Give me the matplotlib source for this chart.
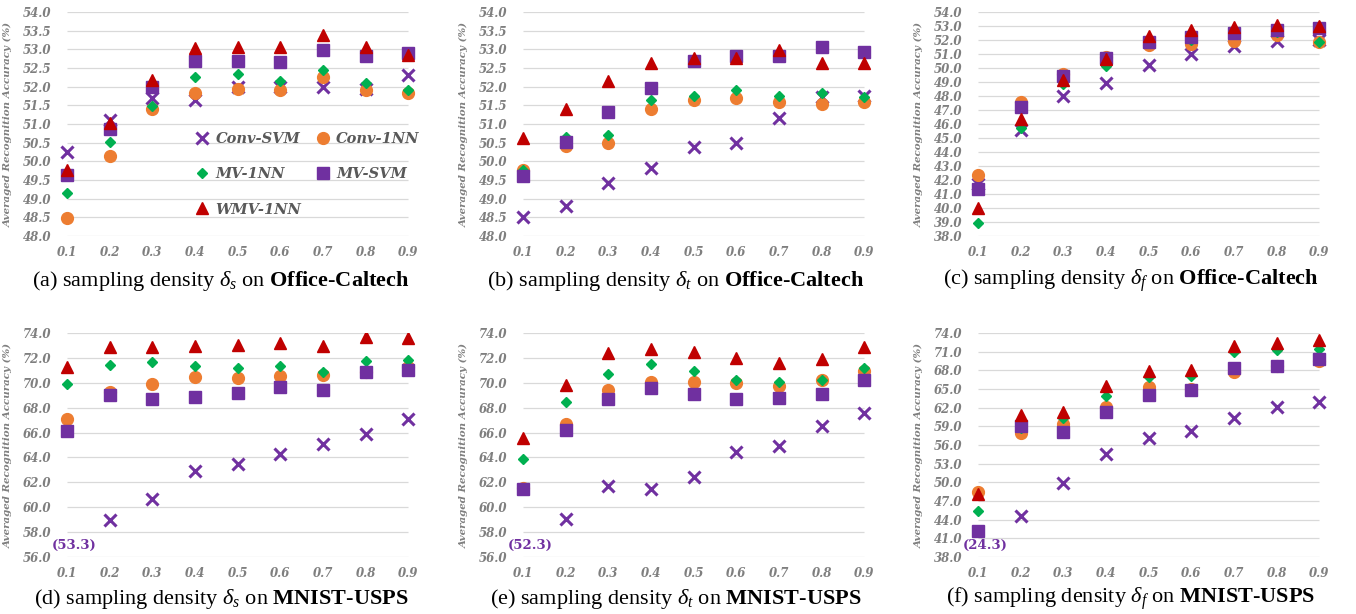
import matplotlib
matplotlib.use('Agg')
from matplotlib import pyplot as plt

plt.rcParams['mathtext.fontset'] = 'custom'
plt.rcParams['mathtext.rm'] = 'Liberation Serif'
plt.rcParams['mathtext.it'] = 'Liberation Serif:italic'
plt.rcParams['mathtext.bf'] = 'Liberation Serif:bold'

densities = [0.1, 0.2, 0.3, 0.4, 0.5, 0.6, 0.7, 0.8, 0.9]
methods = ['Conv-SVM', 'Conv-1NN', 'MV-1NN', 'MV-SVM', 'WMV-1NN']

# (a) delta_s on Office-Caltech
a_conv_svm = [50.25, 51.1, 51.7, 51.65, 52.0, 52.0, 52.0, 51.93, 52.32]
a_conv_1nn = [48.47, 50.14, 51.4, 51.82, 51.93, 51.9, 52.27, 51.91, 51.82]
a_mv_1nn = [49.14, 50.51, 51.48, 52.25, 52.34, 52.16, 52.45, 52.09, 51.9]
a_mv_svm = [49.63, 50.86, 51.99, 52.69, 52.69, 52.65, 52.99, 52.83, 52.9]
a_wmv_1nn = [49.78, 51.02, 52.18, 53.03, 53.06, 53.06, 53.39, 53.06, 52.85]

# (b) delta_t on Office-Caltech
b_conv_svm = [48.51, 48.8, 49.43, 49.83, 50.39, 50.48, 51.15, 51.73, 51.76]
b_conv_1nn = [49.78, 50.42, 50.48, 51.39, 51.63, 51.69, 51.58, 51.53, 51.58]
b_mv_1nn = [49.77, 50.64, 50.71, 51.65, 51.76, 51.91, 51.76, 51.82, 51.73]
b_mv_svm = [49.61, 50.53, 51.31, 51.96, 52.69, 52.83, 52.81, 53.05, 52.93]
b_wmv_1nn = [50.62, 51.39, 52.16, 52.63, 52.76, 52.76, 52.99, 52.63, 52.63]

# (c) delta_f on Office-Caltech
c_conv_svm = [41.7, 45.6, 48.02, 48.93, 50.24, 51.0, 51.55, 51.9, 52.0]
c_conv_1nn = [42.33, 47.55, 49.6, 50.79, 51.62, 51.71, 51.9, 52.38, 51.83]
c_mv_1nn = [38.93, 45.71, 48.88, 50.17, 51.9, 52.0, 52.4, 52.6, 51.86]
c_mv_svm = [41.36, 47.21, 49.45, 50.71, 51.83, 52.21, 52.5, 52.69, 52.86]
c_wmv_1nn = [40.0, 46.38, 49.17, 50.64, 52.26, 52.69, 52.93, 53.1, 52.98]

# (d) delta_s on MNIST-USPS
d_conv_svm = [53.3, 58.95, 60.64, 62.9, 63.46, 64.27, 65.08, 65.85, 67.09]
d_conv_1nn = [67.09, 69.24, 69.89, 70.45, 70.37, 70.56, 70.64, 70.9, 71.3]
d_mv_1nn = [69.91, 71.45, 71.63, 71.31, 71.18, 71.31, 70.88, 71.72, 71.85]
d_mv_svm = [66.15, 69.03, 68.68, 68.84, 69.16, 69.65, 69.43, 70.85, 71.04]
d_wmv_1nn = [71.23, 72.84, 72.84, 72.92, 73.06, 73.19, 72.92, 73.65, 73.6]

# (e) delta_t on MNIST-USPS
e_conv_svm = [52.3, 59.03, 61.71, 61.5, 62.44, 64.46, 64.91, 66.55, 67.55]
e_conv_1nn = [61.55, 66.69, 69.38, 70.1, 70.1, 69.97, 69.75, 70.24, 70.96]
e_mv_1nn = [63.84, 68.49, 70.72, 71.5, 70.96, 70.24, 70.1, 70.24, 71.18]
e_mv_svm = [61.45, 66.2, 68.7, 69.62, 69.08, 68.7, 68.81, 69.08, 70.24]
e_wmv_1nn = [65.53, 69.83, 72.39, 72.74, 72.47, 71.98, 71.58, 71.9, 72.84]

# (f) delta_f on MNIST-USPS
f_conv_svm = [24.3, 44.6, 49.82, 54.5, 57.18, 58.31, 60.4, 62.07, 62.98]
f_conv_1nn = [48.37, 57.99, 59.38, 62.18, 65.3, 64.97, 67.66, 68.63, 69.43]
f_mv_1nn = [45.36, 58.7, 60.3, 63.9, 66.85, 67.12, 70.88, 71.21, 71.42]
f_mv_svm = [42.14, 59.12, 58.15, 61.26, 64.06, 64.87, 68.36, 68.63, 69.81]
f_wmv_1nn = [48.2, 60.84, 61.37, 65.51, 67.82, 68.09, 71.85, 72.39, 72.93]

panels = [
    ('a', 's', 'Office', 'Caltech', [a_conv_svm, a_conv_1nn, a_mv_1nn, a_mv_svm, a_wmv_1nn], 48.0, 54.0, 0.5),
    ('b', 't', 'Office', 'Caltech', [b_conv_svm, b_conv_1nn, b_mv_1nn, b_mv_svm, b_wmv_1nn], 48.0, 54.0, 0.5),
    ('c', 'f', 'Office', 'Caltech', [c_conv_svm, c_conv_1nn, c_mv_1nn, c_mv_svm, c_wmv_1nn], 38.0, 54.0, 1.0),
    ('d', 's', 'MNIST', 'USPS', [d_conv_svm, d_conv_1nn, d_mv_1nn, d_mv_svm, d_wmv_1nn], 56.0, 74.0, 2.0),
    ('e', 't', 'MNIST', 'USPS', [e_conv_svm, e_conv_1nn, e_mv_1nn, e_mv_svm, e_wmv_1nn], 56.0, 74.0, 2.0),
    ('f', 'f', 'MNIST', 'USPS', [f_conv_svm, f_conv_1nn, f_mv_1nn, f_mv_svm, f_wmv_1nn], 38.0, 74.0, 3.0),
]

# marker styles per method
styles = [
    dict(marker='x', color='#7030A0', markersize=8, markeredgewidth=2.2),
    dict(marker='o', color='#ED7D31', markersize=8.5),
    dict(marker='D', color='#00B050', markersize=5.5),
    dict(marker='s', color='#7030A0', markersize=8),
    dict(marker='^', color='#C00000', markersize=9),
]

W, H = 1356, 614
fig = plt.figure(figsize=(W / 100, H / 100), dpi=100)

lefts = [54.2, 510.2, 965.2]
bottoms = [236, 557]
cap_x = [221, 676, 1131]
cap_y = [281, 599]

tick_font = dict(family='DejaVu Serif', weight='bold', style='italic', size=8.5)

for i, (tag, sub, ds1, ds2, series, ymin, ymax, step) in enumerate(panels):
    row, col = divmod(i, 3)
    ax = fig.add_axes([lefts[col] / W, (H - bottoms[row]) / H, 367 / W, 224 / H])
    yt = [ymin + k * step for k in range(int(round((ymax - ymin) / step)) + 1)]
    ax.hlines(yt, densities[0], densities[-1], color='#D9D9D9', lw=0.9, zorder=0)
    handles = []
    for name, vals, st in zip(methods, series, styles):
        h, = ax.plot(densities, vals, linestyle='none', label=name, zorder=3, **st)
        handles.append(h)
    ax.set_xlim(0.07, 0.93)
    ax.set_ylim(ymin, ymax)
    ax.set_xticks(densities)
    ax.set_xticklabels(['%.1f' % d for d in densities], color='#7F7F7F', **tick_font)
    ax.set_yticks(yt)
    ax.set_yticklabels(['%.1f' % v for v in yt], color='#7F7F7F', **tick_font)
    ax.tick_params(axis='x', length=0, pad=7)
    ax.tick_params(axis='y', length=0, pad=2)
    for s in ax.spines.values():
        s.set_visible(False)
    ax.set_ylabel('Averaged Recognition Accuracy (%)', family='DejaVu Serif', weight='bold',
                  style='italic', size=7.4, color='#7F7F7F')
    ax.yaxis.set_label_coords(-0.112, 0.5)

    # off-scale Conv-SVM value at the first density
    if series[0][0] < ymin:
        ax.annotate('(%.1f)' % series[0][0], xy=(densities[0], ymin), xytext=(5, 8.5),
                    textcoords='offset points', ha='center', va='center',
                    family='DejaVu Serif', weight='bold', size=9.5, color='#7030A0')

    if tag == 'a':
        order = [0, 2, 4, 1, 3]
        leg = ax.legend([handles[k] for k in order], [methods[k] for k in order], ncol=2,
                        loc='center', bbox_to_anchor=(0.69, 0.275), frameon=False,
                        prop=dict(family='DejaVu Serif', weight='bold', style='italic', size=10.5),
                        labelspacing=1.45, handlelength=1.0, handletextpad=0.4, columnspacing=1.0,
                        borderpad=0)
        for t in leg.get_texts():
            t.set_color('#595959')

    caption = r'(%s) sampling density $\delta_%s$ on $\mathbf{%s}$-$\mathbf{%s}$' % (tag, sub, ds1, ds2)
    fig.text(cap_x[col] / W, 1 - cap_y[row] / H, caption, ha='center', va='center',
             family='Liberation Serif', size=16)

fig.savefig('out.png', dpi=100)
